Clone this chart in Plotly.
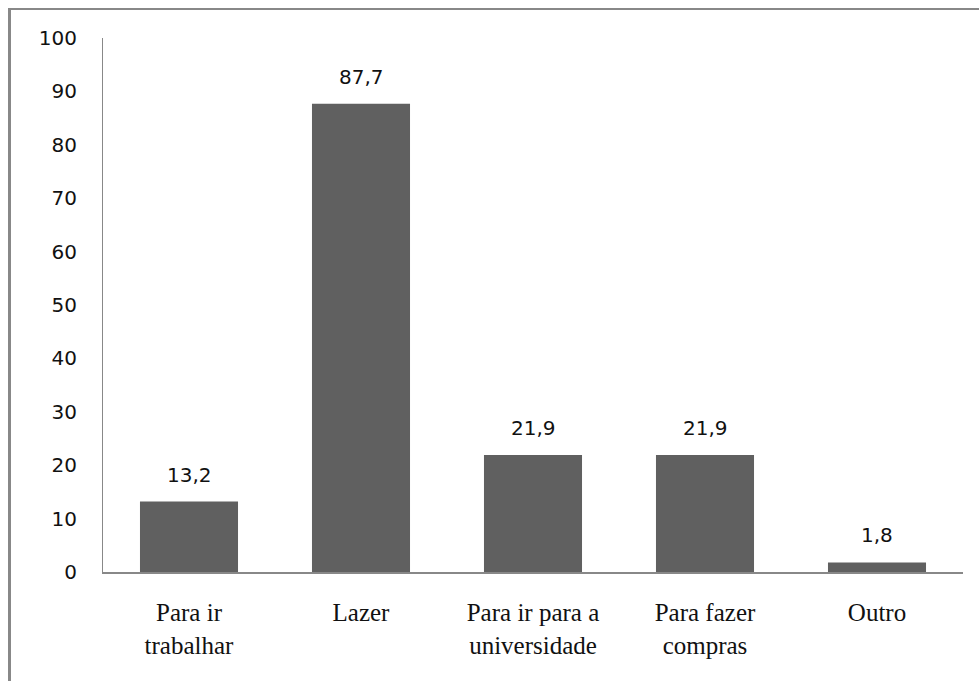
import plotly.graph_objects as go

# Motivos de uso (%)
categorias = ["Para ir<br>trabalhar", "Lazer", "Para ir para a<br>universidade",
              "Para fazer<br>compras", "Outro"]
percentuais = [13.2, 87.7, 21.9, 21.9, 1.8]
y_ticks = [0, 10, 20, 30, 40, 50, 60, 70, 80, 90, 100]

W, H = 979, 681
ML, MR, MT, MB = 103, 16, 38, 109
plot_w = W - ML - MR
plot_h = H - MT - MB

bar_color = "#606060"
line_color = "#888888"

fig = go.Figure(go.Bar(
    x=categorias,
    y=percentuais,
    marker=dict(color=bar_color, line=dict(width=0)),
    hoverinfo="skip",
))

# value labels above each bar, decimal comma
for c, v in zip(categorias, percentuais):
    fig.add_annotation(
        x=c, y=v, xref="x", yref="y",
        text=f"{v:.1f}".replace(".", ","),
        showarrow=False, yanchor="bottom", yshift=13,
        font=dict(family="DejaVu Sans", size=20, color="#111111"),
    )

# outer frame (left and top edges)
def px_x(p):
    return (p - ML) / plot_w

def px_y(p):
    return (H - MB - p) / plot_h

fig.add_shape(type="line", xref="paper", yref="paper",
              x0=px_x(9.5), x1=px_x(9.5), y0=px_y(8), y1=px_y(700),
              line=dict(color=line_color, width=3))
fig.add_shape(type="line", xref="paper", yref="paper",
              x0=px_x(8), x1=px_x(1000), y0=px_y(9), y1=px_y(9),
              line=dict(color=line_color, width=2))

fig.update_layout(
    width=W, height=H,
    margin=dict(l=ML, r=MR, t=MT, b=MB, pad=0),
    paper_bgcolor="white", plot_bgcolor="white",
    bargap=0.43,
    showlegend=False,
    xaxis=dict(
        showline=True, linecolor=line_color, linewidth=2,
        showgrid=False, zeroline=False,
        ticks="outside", ticklen=17, tickcolor="rgba(0,0,0,0)",
        tickfont=dict(family="Liberation Serif", size=25, color="#111111"),
        fixedrange=True,
    ),
    yaxis=dict(
        range=[0, 100], tickvals=y_ticks,
        showline=True, linecolor=line_color, linewidth=1,
        showgrid=False, zeroline=False,
        ticks="outside", ticklen=21, tickcolor="rgba(0,0,0,0)",
        tickfont=dict(family="DejaVu Sans", size=20, color="#111111"),
        fixedrange=True,
    ),
)

fig.write_html("out.html")
